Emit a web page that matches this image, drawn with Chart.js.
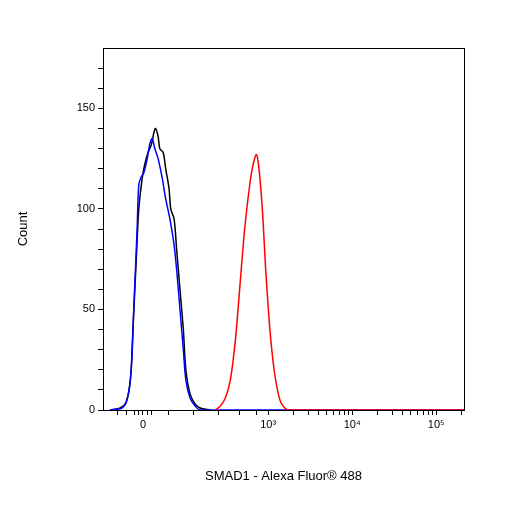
<!DOCTYPE html>
<html><head><script src="https://cdn.jsdelivr.net/npm/chart.js@4"></script>
<style>html,body{margin:0;background:#fff}#w{width:506px;height:506px}</style></head>
<body><div id="w"><canvas id="c"></canvas></div>
<script>
// x values are in display units (biexponential axis: 0 at 0, 10^3 at 1.49, decades 1 apart)
const blackX=[-0.39,-0.27,-0.2,-0.15,-0.12,-0.08,-0.05,-0.01,0.02,0.06,0.10,0.13,0.15,0.18,0.20,0.24,0.27,0.31,0.33,0.37,0.40,0.44,0.48,0.51,0.56,0.62,0.68,0.80];
const blackY=[0,1,4,15,40,75,100,115,122,128,132,138,140,136,130,128,120,110,100,95,80,60,40,20,8,3,1,0];
const blueX=[-0.39,-0.25,-0.19,-0.14,-0.11,-0.07,-0.05,-0.02,0.01,0.05,0.08,0.11,0.14,0.18,0.23,0.27,0.32,0.37,0.40,0.44,0.48,0.51,0.56,0.62,0.68,3.82];
const blueY=[0,1,5,20,50,90,112,116,118,125,132,135,130,125,115,105,95,82,70,50,30,15,6,2,0,0];
const redX=[0.86,0.92,0.98,1.04,1.10,1.15,1.21,1.27,1.31,1.35,1.38,1.42,1.46,1.51,1.56,1.61,1.65,1.73,3.82];
const redY=[0,2,6,15,35,60,90,112,122,127,120,100,70,40,20,8,3,0,0];
const xMajor=[0,1.49,2.49,3.49];
const xLabels=['0','10³','10⁴','10⁵'];
const yLabels=[0,50,100,150];
const pts=(xs,ys)=>xs.map((x,i)=>({x,y:ys[i]}));
const xMinor=[-0.3,-0.2,-0.1,-0.05,0.05,0.1,0.3,0.6,0.9,1.15,1.35];
for(let d=0;d<3;d++)for(let k=2;k<10;k++)xMinor.push(1.49+d+Math.log10(k));
for(let k=2;k<4;k++)xMinor.push(3.49+Math.log10(k));
const ds=(xs,ys,c)=>({data:pts(xs,ys),borderColor:c,borderWidth:1.5,pointRadius:0,tension:0.3,fill:false,showLine:true});
new Chart(document.getElementById('c'),{type:'scatter',
data:{datasets:[ds(redX,redY,'#ff0000'),ds(blueX,blueY,'#0000ff'),ds(blackX,blackY,'#000000')]},
options:{responsive:true,maintainAspectRatio:false,animation:false,
layout:{padding:{left:12,right:42,top:48,bottom:18}},
plugins:{legend:{display:false},tooltip:{enabled:false}},
scales:{
x:{type:'linear',min:-0.476,max:3.82,
 afterBuildTicks:s=>{s.ticks=[...xMajor,...xMinor].filter(v=>v>-0.476&&v<3.82).map(v=>({value:v}));},
 afterFit:s=>{s.height=78;},
 ticks:{autoSkip:false,maxRotation:0,color:'#000',font:{family:'Liberation Sans',size:11},
  callback:v=>{const i=xMajor.findIndex(m=>Math.abs(m-v)<1e-6);return i>=0?xLabels[i]:'';}},
 grid:{display:true,drawOnChartArea:false,drawTicks:true,tickLength:5,color:'#000',tickColor:'#000'},
 border:{color:'#000',width:1},
 title:{display:true,text:'SMAD1 - Alexa Fluor® 488',color:'#000',font:{family:'Liberation Sans',size:13},padding:{top:26}}},
y:{min:0,max:180,
 afterBuildTicks:s=>{const t=[];for(let v=0;v<=170;v+=10)t.push({value:v});s.ticks=t;},
 afterFit:s=>{s.width=91;},
 ticks:{autoSkip:false,color:'#000',font:{family:'Liberation Sans',size:11},
  callback:v=>yLabels.includes(v)?String(v):''},
 grid:{display:true,drawOnChartArea:false,drawTicks:true,tickLength:5,color:'#000',tickColor:'#000'},
 border:{color:'#000',width:1},
 title:{display:true,text:'Count',color:'#000',font:{family:'Liberation Sans',size:13},padding:{bottom:42}}}
}},
plugins:[{id:'frame',afterDraw(ch){const a=ch.chartArea,c=ch.ctx;c.save();c.strokeStyle='#000';c.lineWidth=1;c.strokeRect(a.left+0.5,a.top+0.5,a.right-a.left,a.bottom-a.top);c.restore();}}]
});
</script></body></html>
